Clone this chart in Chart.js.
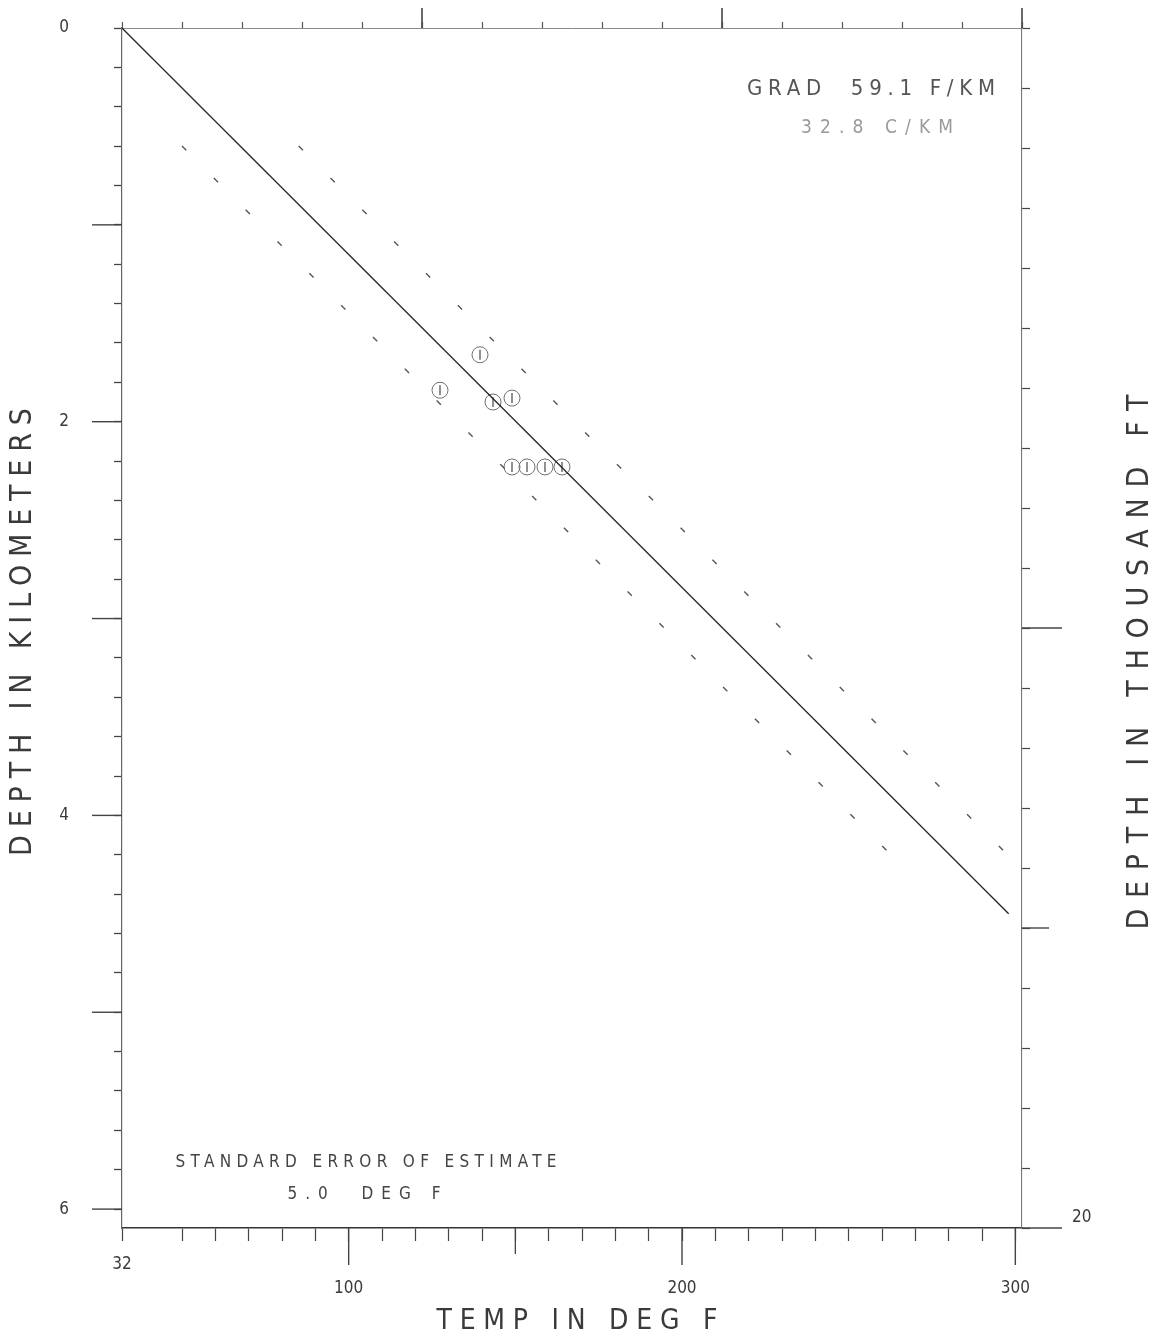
<!DOCTYPE html>
<html>
<head>
<meta charset="utf-8">
<title>Temperature vs depth</title>
<script src="https://cdn.jsdelivr.net/npm/chart.js@4.4.1/dist/chart.umd.min.js"></script>
<style>
  html, body { margin: 0; padding: 0; background: #ffffff; }
  #wrap { width: 1159px; height: 1342px; position: relative; }
</style>
</head>
<body>
<div id="wrap"><canvas id="chart"></canvas></div>
<script>
// Measured well temperatures (deg F) and their depths (km)
const wellTempsF   = [139.4, 127.4, 143.3, 149.0, 149.0, 153.5, 158.9, 164.0];
const wellDepthsKm = [1.66, 1.84, 1.90, 1.88, 2.23, 2.23, 2.23, 2.23];

// Fitted gradient line, from the surface temperature down
const fitTempsF   = [32, 298];
const fitDepthsKm = [0, 4.5];

// Dashed band either side of the fitted line
const bandDepthsKm   = [0.6, 4.2];
const lowBandTempsF  = [50.0, 262.7];
const highBandTempsF = [85.0, 297.7];

// Axis ranges
const tempRangeF   = [32, 302];
const tempRangeC   = [0, 150];
const depthRangeKm = [0, 6.096];
const depthRangeKft = [0, 20];

// Tick values
const tempTicksF = [32, 50, 60, 70, 80, 90, 100, 110, 120, 130, 140, 150, 160, 170, 180, 190,
                    200, 210, 220, 230, 240, 250, 260, 270, 280, 290, 300];
const tempTicksC = [0, 10, 20, 30, 40, 50, 60, 70, 80, 90, 100, 110, 120, 130, 140, 150];
const depthTicksKm = [0, 0.2, 0.4, 0.6, 0.8, 1, 1.2, 1.4, 1.6, 1.8, 2, 2.2, 2.4, 2.6, 2.8, 3,
                      3.2, 3.4, 3.6, 3.8, 4, 4.2, 4.4, 4.6, 4.8, 5, 5.2, 5.4, 5.6, 5.8, 6];
const depthTicksKft = [0, 1, 2, 3, 4, 5, 6, 7, 8, 9, 10, 11, 12, 13, 14, 15, 16, 17, 18, 19, 20];

// Longer tick marks
const tempMajorF = [100, 200, 300];
const tempMidF = [150];
const tempMajorC = [50, 100, 150];
const depthMajorKm = [1, 2, 3, 4, 5, 6];
const depthMajorKft = [10, 20];
const depthMidKft = [15];

// Tick labels
const tempLabelsF = ['32', '100', '200', '300'];
const depthLabelsKm = ['0', '2', '4', '6'];
const depthLabelsKft = ['20'];

// Titles and notes
const titleX = 'TEMP IN DEG F';
const titleY = 'DEPTH IN KILOMETERS';
const titleY2 = 'DEPTH IN THOUSAND FT';
const gradNote = ['GRAD  59.1 F/KM', '32.8 C/KM'];
const errorNote = ['STANDARD ERROR OF ESTIMATE', '5.0  DEG F'];

const INK = '#3a3a3a';
const FONT = "'Liberation Sans Narrow', 'DejaVu Sans Condensed', 'DejaVu Sans', sans-serif";

function pts(xs, ys) { return xs.map((x, i) => ({ x: x, y: ys[i] })); }
function fixTicks(values) { return scale => { scale.ticks = values.map(v => ({ value: v })); }; }

// Text stretched to a given width with even letter spacing
function spacedText(ctx, text, cx, cy, width, size, color, angle) {
  ctx.save();
  ctx.font = size + 'px ' + FONT;
  ctx.letterSpacing = '0px';
  const natural = ctx.measureText(text).width;
  const gap = text.length > 1 ? (width - natural) / (text.length - 1) : 0;
  ctx.letterSpacing = gap + 'px';
  ctx.translate(cx, cy);
  ctx.rotate(angle || 0);
  ctx.fillStyle = color;
  ctx.textAlign = 'left';
  ctx.textBaseline = 'middle';
  ctx.fillText(text, -width / 2, 0);
  ctx.restore();
}

function line(ctx, x1, y1, x2, y2, color, w) {
  ctx.save();
  ctx.strokeStyle = color;
  ctx.lineWidth = w;
  ctx.beginPath();
  ctx.moveTo(x1, y1);
  ctx.lineTo(x2, y2);
  ctx.stroke();
  ctx.restore();
}

function label(ctx, text, x, y, size, align, color) {
  ctx.save();
  ctx.font = size + 'px ' + FONT;
  ctx.fillStyle = color || INK;
  ctx.textAlign = align || 'center';
  ctx.textBaseline = 'middle';
  ctx.fillText(text, x, y);
  ctx.restore();
}

const plotterDecor = {
  id: 'plotterDecor',
  afterDraw(chart) {
    const ctx = chart.ctx;
    const a = chart.chartArea;
    const sx = chart.scales.x, sxc = chart.scales.xC, sy = chart.scales.y, syf = chart.scales.yFt;

    // long ticks, bottom (deg F)
    tempMajorF.forEach(v => { const p = sx.getPixelForValue(v); line(ctx, p, a.bottom, p, a.bottom + 37, '#444', 1.4); });
    tempMidF.forEach(v => { const p = sx.getPixelForValue(v); line(ctx, p, a.bottom, p, a.bottom + 26, '#444', 1.3); });
    // long ticks, top (deg C)
    tempMajorC.forEach(v => { const p = sxc.getPixelForValue(v); line(ctx, p, a.top, p, a.top - 20, '#444', 1.6); });
    // long ticks, left (km)
    depthMajorKm.forEach(v => { const p = sy.getPixelForValue(v); line(ctx, a.left, p, a.left - 30, p, '#444', 1.4); });
    // long ticks, right (thousand ft)
    depthMajorKft.forEach(v => { const p = syf.getPixelForValue(v); line(ctx, a.right, p, a.right + 40, p, '#444', 1.4); });
    depthMidKft.forEach(v => { const p = syf.getPixelForValue(v); line(ctx, a.right, p, a.right + 27, p, '#444', 1.4); });

    // bottom labels sit under the end of their tick
    tempLabelsF.forEach(t => {
      const v = Number(t);
      const len = tempMajorF.includes(v) ? 37 : 13;
      label(ctx, t, sx.getPixelForValue(v), a.bottom + len + 24, 17, 'center');
    });
    // left labels
    depthLabelsKm.forEach(t => { label(ctx, t, 64, sy.getPixelForValue(Number(t)), 17, 'center'); });
    // right labels
    depthLabelsKft.forEach(t => { label(ctx, t, a.right + 50, syf.getPixelForValue(Number(t)) - 10, 17, 'left'); });

    // axis titles
    spacedText(ctx, titleX, 577, 1322, 281, 28, INK, 0);
    spacedText(ctx, titleY, 23, 632, 448, 30, INK, -Math.PI / 2);
    spacedText(ctx, titleY2, 1140, 662, 535, 30, INK, -Math.PI / 2);

    // notes inside the plot
    spacedText(ctx, gradNote[0], 871, 89, 248, 22, '#555', 0);
    spacedText(ctx, gradNote[1], 877, 128, 152, 19, '#9a9a9a', 0);
    spacedText(ctx, errorNote[0], 366, 1163, 381, 17, '#444', 0);
    spacedText(ctx, errorNote[1], 364, 1195, 153, 17, '#444', 0);
  }
};

new Chart(document.getElementById('chart'), {
  type: 'scatter',
  data: {
    datasets: [
      {
        label: 'Gradient',
        data: pts(fitTempsF, fitDepthsKm),
        showLine: true,
        borderColor: '#262626',
        borderWidth: 1.3,
        pointRadius: 0,
        xAxisID: 'x', yAxisID: 'y'
      },
      {
        label: 'Low band',
        data: pts(lowBandTempsF, bandDepthsKm),
        showLine: true,
        borderColor: '#555555',
        borderWidth: 1.4,
        borderDash: [6, 39],
        pointRadius: 0,
        xAxisID: 'x', yAxisID: 'y'
      },
      {
        label: 'High band',
        data: pts(highBandTempsF, bandDepthsKm),
        showLine: true,
        borderColor: '#555555',
        borderWidth: 1.4,
        borderDash: [6, 39],
        pointRadius: 0,
        xAxisID: 'x', yAxisID: 'y'
      },
      {
        label: 'Wells',
        data: pts(wellTempsF, wellDepthsKm),
        pointStyle: 'circle',
        pointRadius: 8,
        pointBorderColor: '#707070',
        pointBorderWidth: 1,
        pointBackgroundColor: 'rgba(0,0,0,0)',
        xAxisID: 'x', yAxisID: 'y'
      },
      {
        label: 'Wells marker',
        data: pts(wellTempsF, wellDepthsKm),
        pointStyle: 'line',
        pointRotation: 90,
        pointRadius: 5,
        pointBorderColor: '#555555',
        pointBorderWidth: 1.3,
        xAxisID: 'x', yAxisID: 'y'
      }
    ]
  },
  options: {
    responsive: true,
    maintainAspectRatio: false,
    animation: false,
    layout: { padding: 0 },
    plugins: { legend: { display: false }, tooltip: { enabled: false } },
    scales: {
      x: {
        type: 'linear', position: 'bottom',
        min: tempRangeF[0], max: tempRangeF[1],
        afterBuildTicks: fixTicks(tempTicksF),
        afterFit: s => { s.height = 114; },
        ticks: { display: false },
        grid: { drawOnChartArea: false, drawTicks: true, tickLength: 13, tickColor: '#444', tickWidth: 1.2 },
        border: { display: true, color: '#333333', width: 1.6 }
      },
      xC: {
        type: 'linear', position: 'top',
        min: tempRangeC[0], max: tempRangeC[1],
        afterBuildTicks: fixTicks(tempTicksC),
        afterFit: s => { s.height = 28; },
        ticks: { display: false },
        grid: { drawOnChartArea: false, drawTicks: true, tickLength: 6, tickColor: '#555', tickWidth: 1.2 },
        border: { display: true, color: '#8a8a8a', width: 1, dash: [2, 3] }
      },
      y: {
        type: 'linear', position: 'left', reverse: true,
        min: depthRangeKm[0], max: depthRangeKm[1],
        afterBuildTicks: fixTicks(depthTicksKm),
        afterFit: s => { s.width = 122; },
        ticks: { display: false },
        grid: { drawOnChartArea: false, drawTicks: true, tickLength: 8, tickColor: '#444', tickWidth: 1.3 },
        border: { display: true, color: '#666666', width: 1.2, dash: [7, 2] }
      },
      yFt: {
        type: 'linear', position: 'right', reverse: true,
        min: depthRangeKft[0], max: depthRangeKft[1],
        afterBuildTicks: fixTicks(depthTicksKft),
        afterFit: s => { s.width = 137; },
        ticks: { display: false },
        grid: { drawOnChartArea: false, drawTicks: true, tickLength: 8, tickColor: '#444', tickWidth: 1.2 },
        border: { display: true, color: '#777777', width: 1.1, dash: [6, 3] }
      }
    }
  },
  plugins: [plotterDecor]
});
</script>
</body>
</html>
